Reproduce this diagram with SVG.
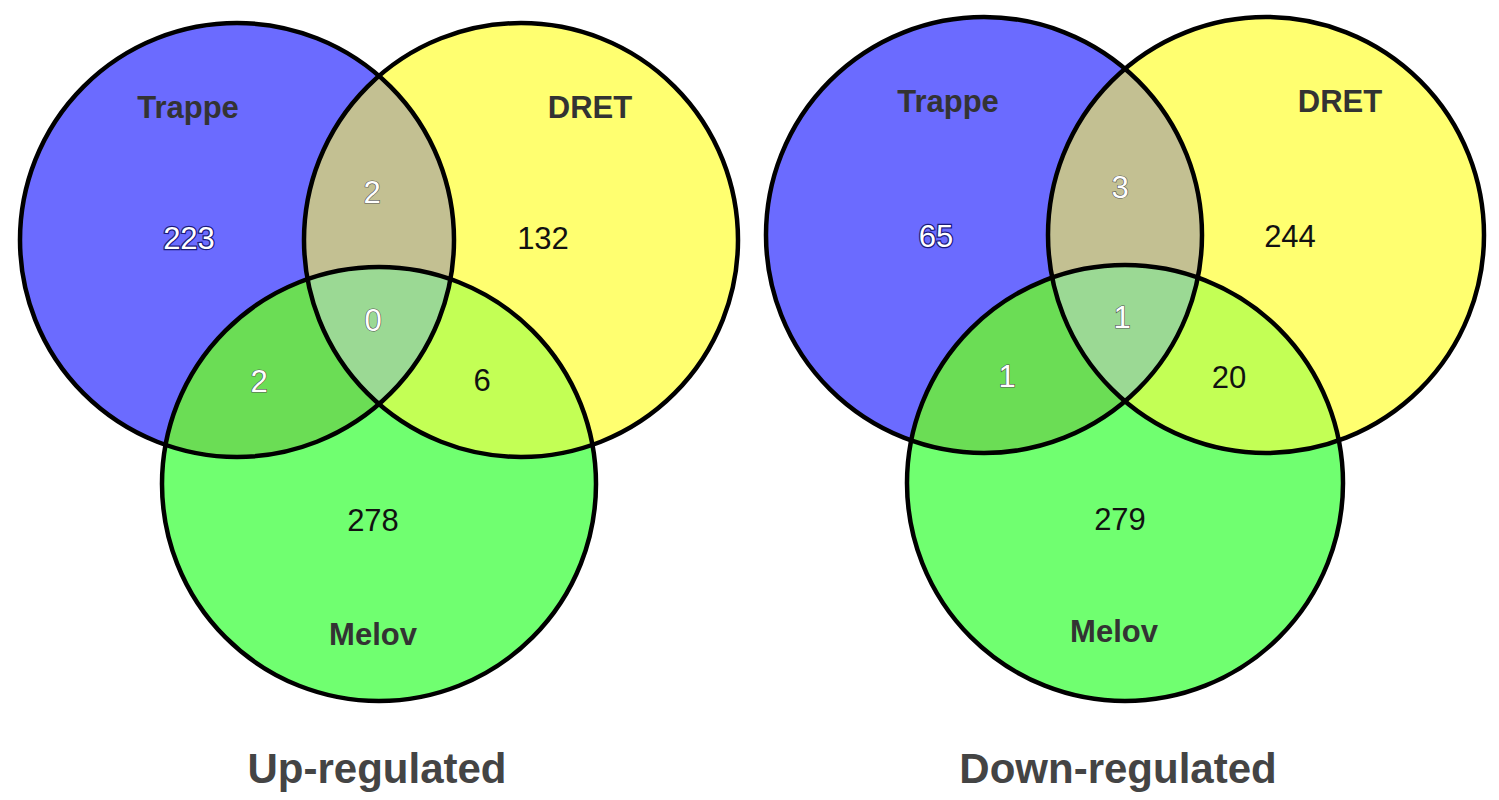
<svg xmlns="http://www.w3.org/2000/svg" width="1499" height="800" viewBox="0 0 1499 800">
<style>
.ring{fill:none;stroke:#000;stroke-width:4.5}
.lab{font-family:"Liberation Sans",Arial,sans-serif;font-weight:bold;font-size:31px;fill:#333;text-anchor:middle}
.num{font-family:"Liberation Sans",Arial,sans-serif;font-size:31px;fill:#111;text-anchor:middle}
.wn{font-family:"Liberation Sans",Arial,sans-serif;font-size:31px;fill:#fff;text-anchor:middle;stroke:#555;stroke-width:1.2;paint-order:stroke}
.bn{font-family:"Liberation Sans",Arial,sans-serif;font-size:31px;fill:#fff;text-anchor:middle;stroke:#1a1a7a;stroke-width:2.5;paint-order:stroke}
.ttl{font-family:"Liberation Sans",Arial,sans-serif;font-weight:bold;font-size:42px;fill:#444;text-anchor:middle}
.cb{fill:#6b6bff}.cy{fill:#ffff70}.cg{fill:#70ff70}
.by{fill:#c3c092}.bg{fill:#6bdd55}.yg{fill:#c3ff55}.byg{fill:#9bd994}
</style>
<defs>
<clipPath id="lY"><circle cx="521" cy="240" r="217"/></clipPath>
<clipPath id="lG"><circle cx="379" cy="484" r="217"/></clipPath>
<clipPath id="rY"><circle cx="1266" cy="235" r="218"/></clipPath>
<clipPath id="rG"><circle cx="1125" cy="483" r="218"/></clipPath>
</defs>
<rect width="1499" height="800" fill="#fff"/>

<g id="up-venn">
<g id="up-fills">
<circle class="cb" cx="237" cy="240" r="217"/>
<circle class="cy" cx="521" cy="240" r="217"/>
<circle class="cg" cx="379" cy="484" r="217"/>
<circle class="by" cx="237" cy="240" r="217" clip-path="url(#lY)"/>
<circle class="bg" cx="237" cy="240" r="217" clip-path="url(#lG)"/>
<circle class="yg" cx="521" cy="240" r="217" clip-path="url(#lG)"/>
<g clip-path="url(#lG)"><circle class="byg" cx="237" cy="240" r="217" clip-path="url(#lY)"/></g>
</g>
<g id="up-trappe"><circle class="ring" cx="237" cy="240" r="217"/><text class="lab" x="188" y="118">Trappe</text></g>
<g id="up-dret"><circle class="ring" cx="521" cy="240" r="217"/><text class="lab" x="590" y="118">DRET</text></g>
<g id="up-melov"><circle class="ring" cx="379" cy="484" r="217"/><text class="lab" x="373" y="645">Melov</text></g>
<g id="up-counts">
<text class="bn" x="189" y="249">223</text>
<text class="wn" x="372" y="203">2</text>
<text class="num" x="543" y="249">132</text>
<text class="wn" x="373" y="331">0</text>
<text class="wn" x="259" y="392">2</text>
<text class="num" x="482" y="391">6</text>
<text class="num" x="373" y="531">278</text>
</g>
<text id="up-title" class="ttl" x="377" y="783">Up-regulated</text>
</g>

<g id="down-venn">
<g id="down-fills">
<circle class="cb" cx="984" cy="235" r="218"/>
<circle class="cy" cx="1266" cy="235" r="218"/>
<circle class="cg" cx="1125" cy="483" r="218"/>
<circle class="by" cx="984" cy="235" r="218" clip-path="url(#rY)"/>
<circle class="bg" cx="984" cy="235" r="218" clip-path="url(#rG)"/>
<circle class="yg" cx="1266" cy="235" r="218" clip-path="url(#rG)"/>
<g clip-path="url(#rG)"><circle class="byg" cx="984" cy="235" r="218" clip-path="url(#rY)"/></g>
</g>
<g id="down-trappe"><circle class="ring" cx="984" cy="235" r="218"/><text class="lab" x="948" y="112">Trappe</text></g>
<g id="down-dret"><circle class="ring" cx="1266" cy="235" r="218"/><text class="lab" x="1340" y="112">DRET</text></g>
<g id="down-melov"><circle class="ring" cx="1125" cy="483" r="218"/><text class="lab" x="1114" y="642">Melov</text></g>
<g id="down-counts">
<text class="bn" x="936" y="247">65</text>
<text class="wn" x="1120" y="198">3</text>
<text class="num" x="1290" y="247">244</text>
<text class="wn" x="1122" y="328">1</text>
<text class="wn" x="1007" y="387">1</text>
<text class="num" x="1229" y="388">20</text>
<text class="num" x="1120" y="530">279</text>
</g>
<text id="down-title" class="ttl" x="1118" y="783">Down-regulated</text>
</g>
</svg>
